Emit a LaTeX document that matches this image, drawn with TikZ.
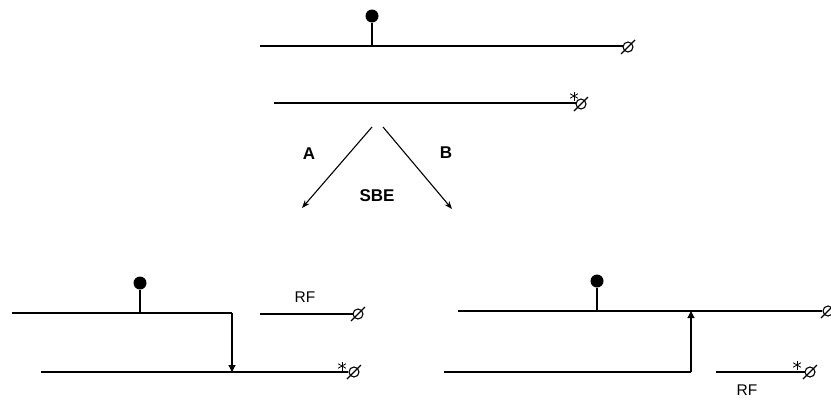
\documentclass[tikz,border=0pt]{standalone}
\usepackage{fontspec}
\setmainfont{Liberation Sans}
\usetikzlibrary{arrows.meta}

\begin{document}
\begin{tikzpicture}[
  x=1pt, y=-1pt,
  strand/.style={line width=1.2pt},
  ball/.style={circle, fill=black, inner sep=0pt, minimum size=13pt},
  lbl/.style={font=\fontsize{17}{19}\selectfont\bfseries, inner sep=0pt},
  rflbl/.style={font=\fontsize{15.5}{17}\selectfont, inner sep=0pt},
  sbe/.style={line width=1.1pt, -{Stealth[length=8pt,width=6pt]}},
  link/.style={line width=1.2pt, -{Triangle[length=7pt,width=7pt]}},
  capend/.pic={
    \draw[line width=1.1pt] (0,0) circle (5);
    \draw[line width=1.1pt] (-7,7) -- (7,-7);
  },
  lesion/.pic={
    \foreach \a in {30,90,150}
      \draw[line width=0.8pt] (\a:4.5) -- (\a+180:4.5);
  }
]
  \useasboundingbox (0,0) rectangle (831,400);

  % top duplex
  \coordinate (t1a) at (260,46);
  \coordinate (t1b) at (623,46);
  \coordinate (t1s) at (372,46);
  \node[ball] (t1ball) at (372,16) {};
  \draw[strand] (t1a) -- (t1b);
  \draw[strand] (t1s) -- (t1ball);
  \pic at (628,47) {capend};

  \coordinate (t2a) at (274,103);
  \coordinate (t2b) at (576,103);
  \draw[strand] (t2a) -- (t2b);
  \pic at (574,96) {lesion};
  \pic at (581,104) {capend};

  % branches
  \coordinate (fork1) at (372,127);
  \coordinate (fork2) at (383,127);
  \coordinate (armA) at (302,208);
  \coordinate (armB) at (452,209);
  \draw[sbe] (fork1) -- (armA);
  \draw[sbe] (fork2) -- (armB);
  \node[lbl] (labA) at (309,154) {A};
  \node[lbl] (labB) at (446,153) {B};
  \node[lbl] (labSBE) at (377,196) {SBE};

  % pathway A
  \coordinate (a1a) at (12,313);
  \coordinate (a1b) at (232,313);
  \coordinate (a1s) at (140,313);
  \node[ball] (a1ball) at (140,283) {};
  \draw[strand] (a1a) -- (a1b);
  \draw[strand] (a1s) -- (a1ball);
  \coordinate (a2a) at (41,372);
  \coordinate (a2j) at (232,372);
  \coordinate (a2b) at (348,372);
  \draw[strand] (a2a) -- (a2b);
  \draw[link] (a1b) -- (a2j);
  \pic at (342,366) {lesion};
  \pic at (354,372) {capend};
  \coordinate (rfAa) at (260,314);
  \coordinate (rfAb) at (353,314);
  \draw[strand] (rfAa) -- (rfAb);
  \pic at (358,314) {capend};
  \node[rflbl] (rfA) at (305,297) {RF};

  % pathway B
  \coordinate (b1a) at (458,311);
  \coordinate (b1j) at (691,311);
  \coordinate (b1b) at (822,311);
  \coordinate (b1s) at (597,311);
  \node[ball] (b1ball) at (597,281) {};
  \draw[strand] (b1a) -- (b1b);
  \draw[strand] (b1s) -- (b1ball);
  \pic at (828,311) {capend};
  \coordinate (b2a) at (444,372);
  \coordinate (b2b) at (691,372);
  \draw[strand] (b2a) -- (b2b);
  \draw[link] (b2b) -- (b1j);
  \coordinate (rfBa) at (716,372);
  \coordinate (rfBb) at (805,372);
  \draw[strand] (rfBa) -- (rfBb);
  \pic at (797,365) {lesion};
  \pic at (810,372) {capend};
  \node[rflbl] (rfB) at (747,390) {RF};
\end{tikzpicture}
\end{document}
